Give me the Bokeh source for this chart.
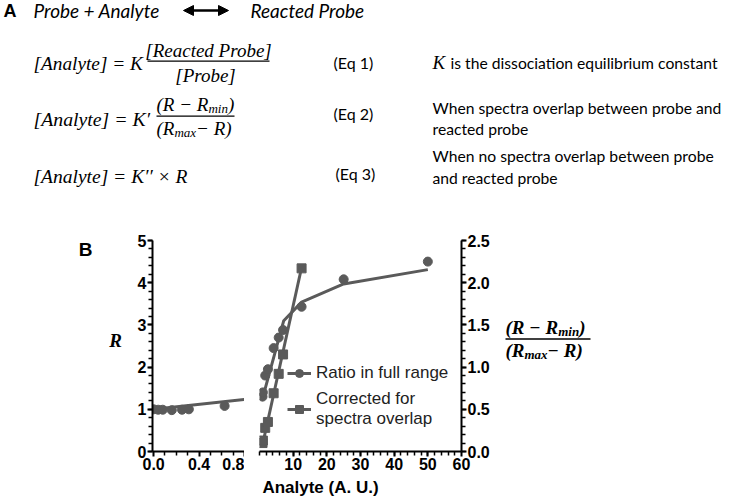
from bokeh.plotting import figure
from bokeh.models import (Range1d, LinearAxis, FixedTicker, Label, Legend, LegendItem,
                          Arrow, NormalHead, NumeralTickFormatter)
from bokeh.layouts import column, row
from bokeh.embed import file_html
from bokeh.resources import INLINE

# ---------------- data ----------------
low_analyte = [0.0, 0.04, 0.08, 0.16, 0.25, 0.31, 0.625]
low_ratio = [1.00, 0.99, 0.99, 0.98, 0.99, 1.00, 1.08]

high_analyte = [0.9, 1.0, 1.7, 2.5, 4.2, 5.7, 7.0, 12.5, 25, 50]
high_ratio = [1.30, 1.40, 1.80, 1.95, 2.45, 2.70, 2.88, 3.43, 4.08, 4.50]

corr_analyte = [0.9, 1.0, 1.7, 2.5, 4.2, 5.7, 7.0, 12.5]
corr_value = [0.10, 0.13, 0.28, 0.35, 0.69, 0.92, 1.15, 2.17]

fit_analyte = [0.0, 0.9, 7.2, 12.5, 25, 50]
fit_ratio = [1.00, 1.26, 3.10, 3.54, 3.97, 4.31]

corr_fit_analyte = [0.9, 12.5]
corr_fit_value = [0.08, 2.18]

left_x_ticks = [0.0, 0.4, 0.8]
left_x_minor = [0.1, 0.2, 0.3, 0.5, 0.6, 0.7]
right_x_ticks = [10, 20, 30, 40, 50, 60]
right_x_minor = list(range(0, 60, 2))
r_ticks = [0, 1, 2, 3, 4, 5]
r_minor = [i / 5 for i in range(0, 26)]
corr_ticks = [0.0, 0.5, 1.0, 1.5, 2.0, 2.5]
corr_minor = [i / 10 for i in range(0, 26)]

GRAY = "#5a5a5a"
SANS = "Liberation Sans"
SERIF = "Liberation Serif"
CAL = "Lato"

BORDER_TOP = 20
BORDER_BOTTOM = 28


def style_axis(ax):
    ax.axis_line_width = 2
    ax.axis_line_color = "black"
    ax.major_tick_line_width = 2
    ax.minor_tick_line_width = 1.5
    ax.major_tick_line_color = "black"
    ax.minor_tick_line_color = "black"
    ax.major_tick_out = 5
    ax.major_tick_in = 0
    ax.minor_tick_out = 4
    ax.minor_tick_in = 0
    ax.major_label_text_font = SANS
    ax.major_label_text_font_style = "bold"
    ax.major_label_text_font_size = "16px"
    ax.major_label_text_color = "black"
    ax.major_label_standoff = 1


def bare(p):
    p.outline_line_color = None
    p.grid.visible = False
    p.background_fill_color = "white"
    p.border_fill_color = "white"


def lab(p, x, y, text, font=SANS, size=15, style="normal", align="left",
        baseline="middle", units="data", color="black"):
    p.add_layout(Label(x=x, y=y, x_units=units, y_units=units, text=text,
                       text_font=font, text_font_size=f"{size}px",
                       text_font_style=style, text_align=align,
                       text_baseline=baseline, text_color=color))


def page_fig(x0, x1, y0, y1, btop=0, bbottom=0):
    """A blank figure whose data coordinates equal page pixels (inside its frame)."""
    p = figure(width=x1 - x0, height=(y1 - y0) + btop + bbottom, x_range=Range1d(x0, x1),
               y_range=Range1d(y1, y0), output_backend="svg", toolbar_location=None,
               min_border_left=0, min_border_right=0, min_border_top=btop,
               min_border_bottom=bbottom, x_axis_location=None, y_axis_location=None)
    bare(p)
    return p


# ---------------- top panel (A) ----------------
top = page_fig(0, 733, 0, 220)

lab(top, 3, 10, "A", font=SANS, size=18, style="bold")
lab(top, 33, 10, "Probe + Analyte", font=CAL, size=19, style="italic")
top.add_layout(Arrow(start=NormalHead(size=10, fill_color="black", line_color="black"),
                     end=NormalHead(size=10, fill_color="black", line_color="black"),
                     x_start=183, y_start=10, x_end=228, y_end=10,
                     line_width=2.5, line_color="black"))
lab(top, 250, 10, "Reacted Probe", font=CAL, size=19, style="italic")

# Eq 1
lab(top, 33, 63, "[Analyte] = K", font=SERIF, size=19.3, style="italic")
lab(top, 208, 50, "[Reacted Probe]", font=SERIF, size=19, style="italic", align="center")
top.segment(x0=[147], y0=[60.7], x1=[269], y1=[60.7], line_color="black", line_width=1.2)
lab(top, 205, 74.5, "[Probe]", font=SERIF, size=19, style="italic", align="center")
lab(top, 333, 62, "(Eq 1)", font=CAL, size=16)
lab(top, 432, 62, "K", font=SERIF, size=19, style="italic")
lab(top, 450, 62, "is the dissociation equilibrium constant", font=CAL, size=15.7)

# Eq 2
lab(top, 33, 118, "[Analyte] = K\u2032", font=SERIF, size=19.8, style="italic")
lab(top, 156, 104, "(R \u2212 R", font=SERIF, size=19, style="italic")
lab(top, 207.9, 108, "min", font=SERIF, size=13, style="italic")
lab(top, 227.4, 104, ")", font=SERIF, size=19, style="italic")
top.segment(x0=[156], y0=[115.7], x1=[234], y1=[115.7], line_color="black", line_width=1.2)
lab(top, 156, 127.5, "(R", font=SERIF, size=19, style="italic")
lab(top, 173.9, 132, "max", font=SERIF, size=13, style="italic")
lab(top, 195.6, 127.5, " \u2212 R)", font=SERIF, size=19, style="italic")
lab(top, 333, 113, "(Eq 2)", font=CAL, size=16)
lab(top, 432, 107, "When spectra overlap between probe and", font=CAL, size=15.7)
lab(top, 432, 128, "reacted probe", font=CAL, size=15.7)

# Eq 3
lab(top, 33, 175.5, "[Analyte] = K\u2032\u2032 \u00d7 R", font=SERIF, size=19.5, style="italic")
lab(top, 335, 173, "(Eq 3)", font=CAL, size=16)
lab(top, 432, 155, "When no spectra overlap between probe", font=CAL, size=15.7)
lab(top, 432, 177, "and reacted probe", font=CAL, size=15.7)

# ---------------- panel letter and left axis title (frame = chart frame rows) ----------------
lbl = page_fig(0, 128, 240, 451, BORDER_TOP, BORDER_BOTTOM)
lab(lbl, 85, 248.5, "B", font=SANS, size=19, style="bold", align="center")
lab(lbl, 115, 340, "R", font=SERIF, size=19, style="bold italic", align="center")

# ---------------- left chart segment ----------------
left = figure(width=116, height=259, x_range=Range1d(-0.01, 0.8), y_range=Range1d(0, 5),
              output_backend="svg", toolbar_location=None,
              min_border_left=24, min_border_right=0, min_border_top=BORDER_TOP,
              min_border_bottom=BORDER_BOTTOM)
bare(left)
left.xaxis.ticker = FixedTicker(ticks=left_x_ticks, minor_ticks=left_x_minor)
left.xaxis.formatter = NumeralTickFormatter(format="0.0")
left.yaxis.ticker = FixedTicker(ticks=r_ticks, minor_ticks=r_minor)
for ax in left.xaxis + left.yaxis:
    style_axis(ax)

left.line(fit_analyte, fit_ratio, line_color=GRAY, line_width=3)
left.scatter(low_analyte, low_ratio, marker="circle", size=9, color=GRAY)

# ---------------- right chart segment ----------------
right = figure(width=257, height=259, x_range=Range1d(0, 60), y_range=Range1d(0, 5),
               output_backend="svg", toolbar_location=None, y_axis_location=None,
               min_border_left=15, min_border_right=40, min_border_top=BORDER_TOP,
               min_border_bottom=BORDER_BOTTOM)
bare(right)
right.extra_y_ranges = {"corr": Range1d(0, 2.5)}
right.xaxis.ticker = FixedTicker(ticks=right_x_ticks, minor_ticks=right_x_minor)
raxis = LinearAxis(y_range_name="corr",
                   ticker=FixedTicker(ticks=corr_ticks, minor_ticks=corr_minor),
                   formatter=NumeralTickFormatter(format="0.0"))
right.add_layout(raxis, "right")
for ax in right.xaxis + [raxis]:
    style_axis(ax)

fit_r = right.line(fit_analyte[1:], fit_ratio[1:], line_color=GRAY, line_width=3)
circ_r = right.scatter(high_analyte, high_ratio, marker="circle", size=9, color=GRAY)
sq_line = right.line(corr_fit_analyte, corr_fit_value, y_range_name="corr",
                     line_color=GRAY, line_width=3)
sq = right.scatter(corr_analyte, corr_value, y_range_name="corr", marker="square",
                   size=9, color=GRAY)

legend = Legend(items=[LegendItem(label="Ratio in full range", renderers=[fit_r, circ_r]),
                       LegendItem(label="Corrected for\nspectra overlap", renderers=[sq_line, sq])],
                location=(28, 22), border_line_color=None, background_fill_alpha=0,
                padding=0, margin=0, spacing=6, glyph_width=24, glyph_height=20,
                label_standoff=5, label_text_font=SANS, label_text_font_size="17px",
                label_text_color="#222222")
right.add_layout(legend)

# ---------------- right axis title ----------------
rt = page_fig(501, 733, 240, 451, BORDER_TOP, BORDER_BOTTOM)
lab(rt, 505, 327, "(R \u2212 R", font=SERIF, size=19, style="bold italic")
lab(rt, 557.7, 331, "min", font=SERIF, size=13, style="bold italic")
lab(rt, 578.7, 327, ")", font=SERIF, size=19, style="bold italic")
rt.segment(x0=[505], y0=[338.5], x1=[590], y1=[338.5], line_color="black", line_width=1.5)
lab(rt, 505, 350, "(R", font=SERIF, size=19, style="bold italic")
lab(rt, 524, 354, "max", font=SERIF, size=13, style="bold italic")
lab(rt, 547.1, 350, " \u2212 R)", font=SERIF, size=19, style="bold italic")

# ---------------- x axis title ----------------
bottom = page_fig(0, 733, 479, 499)
lab(bottom, 320, 487, "Analyte (A. U.)", font=SANS, size=17, style="bold", align="center")

layout = column(top, row(lbl, left, right, rt), bottom)
open("out.html", "w").write(file_html(layout, INLINE))
